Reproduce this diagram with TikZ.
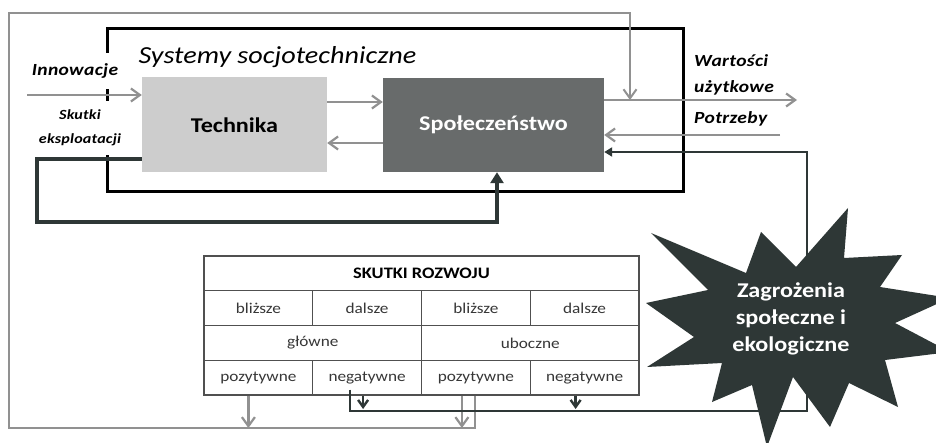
\documentclass[tikz,border=0pt]{standalone}
\usepackage{fontspec}
\setmainfont{Carlito}[FakeStretch=1.15]
\usetikzlibrary{arrows.meta}

\definecolor{linegray}{RGB}{145,145,145}
\definecolor{techgray}{RGB}{205,205,205}
\definecolor{socgray}{RGB}{104,107,107}
\definecolor{darkslate}{RGB}{46,55,54}
\definecolor{cellline}{RGB}{80,80,80}
\definecolor{celltext}{RGB}{55,55,55}

\tikzset{
  mainbox/.style={minimum height=95pt, inner sep=0pt, font=\fontsize{21}{24}\selectfont\bfseries},
  cell/.style={draw=cellline, line width=1.2pt, minimum width=108.75pt, minimum height=34.75pt,
    inner sep=0pt, text=celltext, font=\fontsize{15}{17}\selectfont},
  sidelabel/.style={font=\fontsize{17}{26}\selectfont\bfseries\itshape\addfontfeatures{LetterSpace=2},
    align=center, inner sep=0pt},
  garrow/.style={draw=linegray, line width=2.2pt, -{Straight Barb[length=9pt,width=13pt]}},
  darrow/.style={draw=darkslate, line width=2.4pt, -{Straight Barb[length=7pt,width=10pt]}},
  dline/.style={draw=darkslate, line width=2.4pt}
}

\begin{document}
\begin{tikzpicture}[x=1pt, y=-1pt]
\clip (0,0) rectangle (936,443);
\fill[white] (0,0) rectangle (936,443);

% system boundary
\draw[line width=3pt] (107,29) rectangle (683,192);
\node[anchor=west, font=\fontsize{24.5}{28}\selectfont\itshape] (title) at (135,57) {Systemy socjotechniczne};

\node[mainbox, fill=techgray, minimum width=185pt] (technika) at (234.5,125) {Technika};
\node[mainbox, fill=socgray, text=white, minimum width=221pt, minimum height=94pt] (spol) at (493.5,125) {Społeczeństwo};

\node[sidelabel, fill=white, minimum width=116pt, minimum height=36pt] (innow) at (75,71) {Innowacje};
\node[sidelabel, fill=white, minimum width=122pt, minimum height=54pt, font=\fontsize{14}{24}\selectfont\bfseries\itshape\addfontfeatures{LetterSpace=1.5}] (skutki) at (80,128) {Skutki\\eksploatacji};
\node[sidelabel, anchor=west, align=left] (wart) at (694,75) {Wartości\\użytkowe};
\node[sidelabel, anchor=west] (potrz) at (694,119) {Potrzeby};

\coordinate (innin) at (27,95);
\coordinate (wartout) at (797,100);
\coordinate (potin) at (780,135);
\coordinate (loopbl) at (9,428);
\coordinate (looptr) at (630,13);
\coordinate (fbcorner) at (37,222);
\coordinate (darkcorner) at (807,411);

% table of effects
\node[cell, minimum width=435pt, text=black, font=\fontsize{16}{18}\selectfont\bfseries] (header) at (421.5,273.4) {SKUTKI ROZWOJU};
\node[cell] (b1) at (258.4,308.1) {bliższe};
\node[cell] (d1) at (367.1,308.1) {dalsze};
\node[cell] (b2) at (475.9,308.1) {bliższe};
\node[cell] (d2) at (584.6,308.1) {dalsze};
\node[cell, minimum width=217.5pt] (glowne) at (312.75,342.9) {główne};
\node[cell, minimum width=217.5pt] (uboczne) at (530.25,342.9) {uboczne};
\node[cell] (p1) at (258.4,377.6) {pozytywne};
\node[cell] (n1) at (367.1,377.6) {negatywne};
\node[cell] (p2) at (475.9,377.6) {pozytywne};
\node[cell] (n2) at (584.6,377.6) {negatywne};

\draw[garrow] (innin) -- (innin -| technika.west);
\draw[garrow] ([yshift=23pt]technika.east) -- ([yshift=23pt]spol.west);
\draw[garrow] ([yshift=-18pt]spol.west) -- ([yshift=-18pt]technika.east);
\draw[garrow] ([yshift=25pt]spol.east) -- (wartout);
\draw[garrow] (potin) -- (potin -| spol.east);

\coordinate (pa) at ([xshift=-10pt]p1.south);
\coordinate (pb) at ([xshift=-14pt]p2.south);
\coordinate (pc) at ([xshift=-1pt]p2.south);
\draw[garrow] (pa) -- (pa |- loopbl);
\draw[garrow] (pb) -- (pb |- loopbl);
\draw[garrow, line width=2pt] (pc) |- (loopbl) |- (looptr) -- (looptr |- wartout);

\coordinate (na) at ([xshift=-17pt,yshift=6pt]n1.south);
\coordinate (nb) at ([xshift=-4pt]n1.south);
\coordinate (nc) at ([xshift=-9pt]n2.south);
\draw[darrow] (nb) -- ([yshift=2pt]nb |- darkcorner);
\draw[darrow] (nc) -- ([yshift=2pt]nc |- darkcorner);
\draw[dline, -{Triangle[length=8pt,width=9pt]}] (na) |- (darkcorner) |- ([yshift=-27pt]spol.east);

\draw[dline, line width=4pt, -{Triangle[length=11pt,width=13pt]}] ([yshift=-34pt]technika.west) -| (fbcorner) -| ([xshift=3.5pt]spol.south);

% threat star
\fill[darkslate] (651,233) -- (746,273) -- (761,232) -- (796,267) -- (848,208) -- (844,258)
  -- (902,255) -- (880,287) -- (950,298) -- (895,323) -- (950,352) -- (885,360) -- (898,407)
  -- (849,383) -- (830,427) -- (793,377) -- (767,447) -- (752,385) -- (712,402) -- (722,363)
  -- (647,367) -- (694,337) -- (646,303) -- (708,290) -- cycle;
\node[align=center, text=white, font=\fontsize{21}{27}\selectfont\bfseries] (zagr) at (791,319) {Zagrożenia\\społeczne i\\ekologiczne};
\end{tikzpicture}
\end{document}
